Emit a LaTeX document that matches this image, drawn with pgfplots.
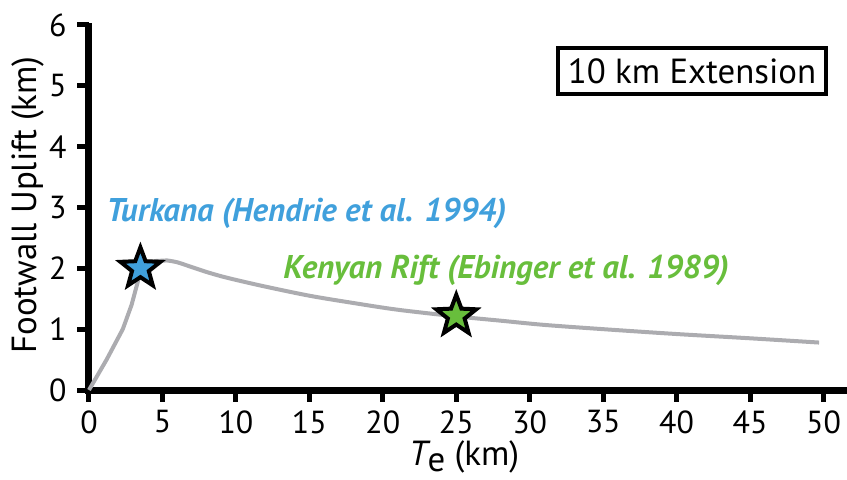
\documentclass[border=0pt]{standalone}
\usepackage{fontspec}
\setmainfont{PT Sans}
\usepackage{pgfplots}
\pgfplotsset{compat=1.18}
\definecolor{curvegray}{RGB}{172,172,176}
\definecolor{tblue}{RGB}{64,160,220}
\definecolor{tgreen}{RGB}{104,190,60}
\pgfdeclareplotmark{fstar}{%
  \pgfpathmoveto{\pgfpointpolar{90}{\pgfplotmarksize}}%
  \pgfpathlineto{\pgfpointpolar{126}{0.42\pgfplotmarksize}}%
  \pgfpathlineto{\pgfpointpolar{162}{\pgfplotmarksize}}%
  \pgfpathlineto{\pgfpointpolar{198}{0.42\pgfplotmarksize}}%
  \pgfpathlineto{\pgfpointpolar{234}{\pgfplotmarksize}}%
  \pgfpathlineto{\pgfpointpolar{270}{0.42\pgfplotmarksize}}%
  \pgfpathlineto{\pgfpointpolar{306}{\pgfplotmarksize}}%
  \pgfpathlineto{\pgfpointpolar{342}{0.42\pgfplotmarksize}}%
  \pgfpathlineto{\pgfpointpolar{18}{\pgfplotmarksize}}%
  \pgfpathlineto{\pgfpointpolar{54}{0.42\pgfplotmarksize}}%
  \pgfpathclose
  \pgfusepathqfillstroke}
\begin{document}
\begin{tikzpicture}
\begin{axis}[
  scale only axis,
  width=758bp, height=365bp,
  xmin=0, xmax=51.6, ymin=0, ymax=6,
  axis x line*=bottom, axis y line*=left,
  axis line style={draw=none},
  xtick={0,5,10,15,20,25,30,35,40,45,50},
  xticklabels={0,5,10,15,20,25,30,35,40,45,50},
  ytick={0,1,2,3,4,5,6},
  yticklabels={0,1,2,3,4,5,6},
  tick align=outside,
  major tick length=11bp,
  major tick style={draw=none},
  xticklabel style={font=\fontsize{32}{36}\selectfont, yshift=-6bp},
  yticklabel style={font=\fontsize{32}{36}\selectfont, xshift=-8bp},
  xlabel={{\itshape T}\raisebox{-0.16em}{e} (km)},
  ylabel={Footwall Uplift (km)},
  xlabel style={font=\fontsize{35}{40}\selectfont, at={(axis description cs:0.495,0)}, anchor=center, yshift=-67bp},
  ylabel style={font=\fontsize{35}{40}\selectfont, at={(axis description cs:-0.08,0.507)}, anchor=center},
  clip=false,
  unbounded coords=jump,
]
\coordinate (O) at (axis cs:0,0);
% axis lines and tick marks
\addplot[black, line width=7bp, line join=miter, forget plot] coordinates {(0,6.03) (0,0) (51.6,0)};
\addplot[black, line width=5bp, forget plot] coordinates {
(0,0) (0,-0.2) (nan,nan) (5,0) (5,-0.2) (nan,nan) (10,0) (10,-0.2) (nan,nan)
(15,0) (15,-0.2) (nan,nan) (20,0) (20,-0.2) (nan,nan) (25,0) (25,-0.2) (nan,nan)
(30,0) (30,-0.2) (nan,nan) (35,0) (35,-0.2) (nan,nan) (40,0) (40,-0.2) (nan,nan)
(45,0) (45,-0.2) (nan,nan) (50,0) (50,-0.2)};
\addplot[black, line width=5bp, forget plot] coordinates {
(0,0) (-0.82,0) (nan,nan) (0,1) (-0.82,1) (nan,nan) (0,2) (-0.82,2) (nan,nan)
(0,3) (-0.82,3) (nan,nan) (0,4) (-0.82,4) (nan,nan) (0,5) (-0.82,5) (nan,nan)
(0,6) (-0.82,6)};
% curve
\addplot[curvegray, line width=4bp] coordinates {
(0,0) (1.2,0.5) (2.3,1.0) (2.9,1.4) (3.4,1.85) (3.8,2.05) (4.5,2.12) (5.3,2.13)};
\addplot[curvegray, line width=4bp, smooth, tension=0.5] coordinates {
(5.3,2.13)
(6,2.1) (7,2.02) (8,1.94) (9,1.87) (10,1.81) (12,1.7) (15,1.55) (18,1.43)
(21,1.32) (25,1.21) (28,1.14) (31,1.07) (35,1.0) (40,0.92) (45,0.85) (49.7,0.78)};
\addplot[only marks, mark=fstar, mark size=21bp, mark options={fill=tblue, draw=black, line width=4bp, line join=miter}] coordinates {(3.5,2.0)};
\addplot[only marks, mark=fstar, mark size=21bp, mark options={fill=tgreen, draw=black, line width=4bp, line join=miter}] coordinates {(25,1.22)};
\node[font=\fontsize{33}{38}\selectfont\bfseries\itshape, text=tblue] at (axis cs:14.8,2.91) {Turkana (Hendrie et al. 1994)};
\node[font=\fontsize{33}{38}\selectfont\bfseries\itshape, text=tgreen] at (axis cs:28.4,1.97) {Kenyan Rift (Ebinger et al. 1989)};
\node[draw=black, line width=4bp, font=\fontsize{35}{40}\selectfont, inner xsep=4bp, inner ysep=2bp, minimum width=268bp, minimum height=46bp] at (axis cs:41.05,5.24) {10 km Extension};
\end{axis}
\pgfresetboundingbox
\path[use as bounding box] (O) ++(-89bp,-90bp) rectangle ++(847bp,480bp);
\end{tikzpicture}
\end{document}
